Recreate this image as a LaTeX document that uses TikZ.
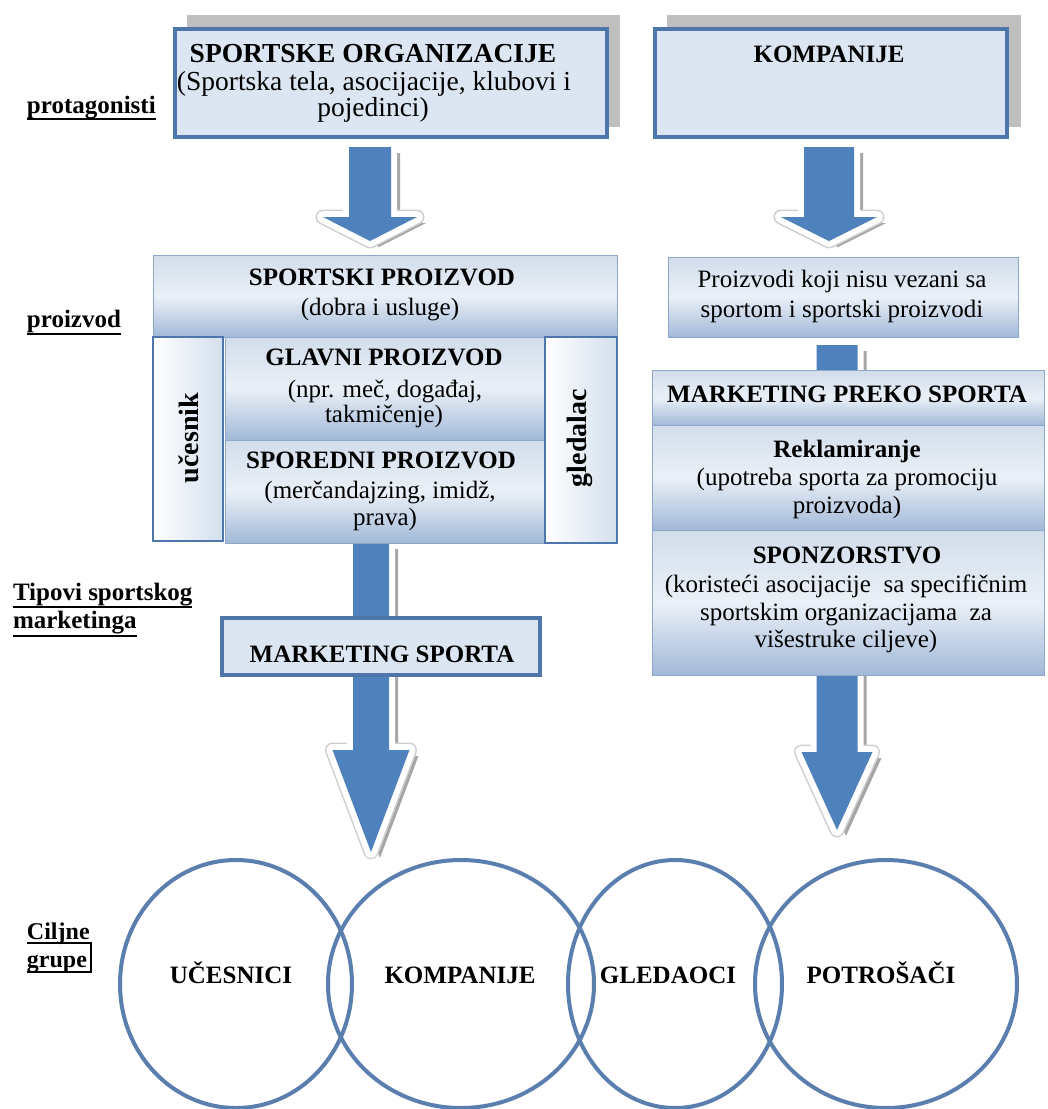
\documentclass[tikz,border=0pt]{standalone}
\usepackage{fontspec}
\setmainfont{Liberation Serif}
\usetikzlibrary{calc,shapes.geometric}

\definecolor{FlowBlue}{HTML}{4F81BD}
\definecolor{FlowShadow}{HTML}{A6A6A6}
\definecolor{HeadRim}{HTML}{CFCFCF}
\definecolor{TopFill}{HTML}{DCE6F2}
\definecolor{TopLine}{HTML}{4E76AA}
\definecolor{TopShadow}{HTML}{BFBFBF}
\definecolor{ShadeTop}{HTML}{D2DDEB}
\definecolor{ShadeMid}{HTML}{EAF0F7}
\definecolor{ShadeBot}{HTML}{A2B9D8}
\definecolor{ShadeLine}{HTML}{8DA7C8}
\definecolor{SideFill}{HTML}{D3DFEE}
\definecolor{RingLine}{HTML}{5A7FAF}

\newcommand{\setfsz}[1]{\fontsize{#1pt}{#1pt}\selectfont}

% block arrow: #1 start coordinate, #2 tip coordinate,
% #3 shaft half width, #4 head half width, #5 head length
\newcommand{\flowarrow}[5]{%
  \path let \p1=(#1), \p2=(#2) in
    (\x1-#3,\y1) coordinate (fa1)
    (\x1-#3,\y2+#5) coordinate (fa2)
    (\x1-#4,\y2+#5) coordinate (fa3)
    (\x2,\y2) coordinate (fa4)
    (\x1+#4,\y2+#5) coordinate (fa5)
    (\x1+#3,\y2+#5) coordinate (fa6)
    (\x1+#3,\y1) coordinate (fa7);
  \fill[FlowShadow, transform canvas={shift={(9pt,-6pt)}}]
    (fa1)--(fa2)--(fa3)--(fa4)--(fa5)--(fa6)--(fa7)--cycle;
  \draw[HeadRim, line width=15pt, line join=round] (fa3)--(fa4)--(fa5)--cycle;
  \draw[white, line width=12pt, line join=round]
    (fa1)--(fa2)--(fa3)--(fa4)--(fa5)--(fa6)--(fa7)--cycle;
  \fill[FlowBlue] (fa1)--(fa2)--(fa3)--(fa4)--(fa5)--(fa6)--(fa7)--cycle;
}

\begin{document}
\begin{tikzpicture}[x=1pt, y=-1pt,
  every node/.style={inner sep=0pt, outer sep=0pt},
  topbox/.style={rectangle, draw=TopLine, line width=3.5pt, fill=TopFill},
  topshade/.style={rectangle, fill=TopShadow},
  shadebox/.style={rectangle, draw=ShadeLine, line width=0.8pt,
    top color=ShadeTop, bottom color=ShadeBot, middle color=ShadeMid},
  sidebox/.style={rectangle, draw=TopLine, line width=1.5pt,
    left color=white, right color=SideFill},
  ring/.style={ellipse, draw=RingLine, line width=4pt},
  hd/.style={anchor=base, font=\bfseries\setfsz{25}},
  bd/.style={anchor=base, font=\setfsz{25}},
  rowlbl/.style={anchor=base west, font=\bfseries\setfsz{25}},
  uline/.style={line width=2pt, black}
]
\useasboundingbox (0,0) rectangle (1048,1109);
\fill[white] (0,0) rectangle (1048,1109);

% ---------- connector coordinates ----------
\coordinate (a1-top) at (370,147);
\coordinate (a1-tip) at (370,241);
\coordinate (a2-top) at (829,147);
\coordinate (a2-tip) at (829,241);
\coordinate (a3-top) at (371,543);
\coordinate (a3-tip) at (371,852);
\coordinate (a4-top) at (837,345);
\coordinate (a4-tip) at (837,830);

% ---------- block arrows (behind the boxes) ----------
\flowarrow{a1-top}{a1-tip}{21pt}{47pt}{24pt}
\flowarrow{a2-top}{a2-tip}{25pt}{48pt}{24pt}
\flowarrow{a3-top}{a3-tip}{18pt}{38.5pt}{102pt}
\flowarrow{a4-top}{a4-tip}{20.5pt}{35.5pt}{78pt}

% ---------- protagonists ----------
\node[topshade, minimum width=433pt, minimum height=112pt] (so-sh) at (403.5,71) {};
\node[topbox, minimum width=432pt, minimum height=108pt] (so) at (391,83) {};
\node[topshade, minimum width=354pt, minimum height=112pt] (ko-sh) at (844,71) {};
\node[topbox, minimum width=352pt, minimum height=108pt] (ko) at (831,83) {};

\node[hd, font=\bfseries\setfsz{27.5}] (so-t1) at (373,62) {SPORTSKE ORGANIZACIJE};
\node[bd, font=\setfsz{27.5}] (so-t2) at (374,90) {(Sportska tela, asocijacije, klubovi i};
\node[bd, font=\setfsz{27.5}] (so-t3) at (373,116) {pojedinci)};
\node[hd] (ko-t1) at (829,62) {KOMPANIJE};

% ---------- product ----------
\node[shadebox, minimum width=464pt, minimum height=82pt] (sp) at (385,296) {};
\node[sidebox, minimum width=70pt, minimum height=204pt] (uc) at (188,439) {};
\node[shadebox, minimum width=320pt, minimum height=103pt] (gp) at (385,388.5) {};
\node[shadebox, minimum width=320pt, minimum height=103pt] (spr) at (385,491.5) {};
\node[sidebox, minimum width=72pt, minimum height=206pt] (gl) at (581,440) {};

\node[hd] (sp-t1) at (382,285) {SPORTSKI PROIZVOD};
\node[bd] (sp-t2) at (380,315) {(dobra i usluge)};
\node[hd] (gp-t1) at (384,365) {GLAVNI PROIZVOD};
\node[bd] (gp-t2) at (385,397) {(npr. meč, događaj,};
\node[bd] (gp-t3) at (384,422) {takmičenje)};
\node[hd] (spr-t1) at (381,468) {SPOREDNI PROIZVOD};
\node[bd] (spr-t2) at (380,498) {(merčandajzing, imidž,};
\node[bd] (spr-t3) at (385,525) {prava)};
\node[font=\bfseries\setfsz{28}, rotate=90] (uc-t) at (189,438) {učesnik};
\node[font=\bfseries\setfsz{28}, rotate=90] (gl-t) at (580,438) {gledalac};

\node[shadebox, minimum width=350pt, minimum height=80pt] (pk) at (843,297) {};
\node[bd] (pk-t1) at (842,287) {Proizvodi koji nisu vezani sa};
\node[bd] (pk-t2) at (842,317) {sportom i sportski proizvodi};

% ---------- types of sport marketing ----------
\node[topbox, minimum width=318pt, minimum height=57pt] (ms) at (381,646.5) {};
\node[hd] (ms-t) at (382,662) {MARKETING SPORTA};

\node[shadebox, minimum width=392pt, minimum height=55pt] (mps) at (848,397.5) {};
\node[shadebox, minimum width=392pt, minimum height=105pt] (rk) at (848,477.5) {};
\node[shadebox, minimum width=392pt, minimum height=145pt] (sz) at (848,602.5) {};

\node[hd] (mps-t) at (847,402) {MARKETING PREKO SPORTA};
\node[hd] (rk-t1) at (847,457) {Reklamiranje};
\node[bd] (rk-t2) at (847,485) {(upotreba sporta za promociju};
\node[bd] (rk-t3) at (847,513) {proizvoda)};
\node[hd] (sz-t1) at (847,563) {SPONZORSTVO};
\node[bd] (sz-t2) at (846,592) {(koristeći asocijacije~ sa specifičnim};
\node[bd] (sz-t3) at (846,620) {sportskim organizacijama~ za};
\node[bd] (sz-t4) at (846,647) {višestruke ciljeve)};

% ---------- target groups ----------
\node[ring, minimum width=232pt, minimum height=248pt] (c1) at (236,984) {};
\node[ring, minimum width=266pt, minimum height=248pt] (c2) at (461,984) {};
\node[ring, minimum width=214pt, minimum height=248pt] (c3) at (675,984) {};
\node[ring, minimum width=262pt, minimum height=248pt] (c4) at (886,984) {};

\node[hd] (c1-t) at (231,983) {UČESNICI};
\node[hd] (c2-t) at (460,983) {KOMPANIJE};
\node[hd] (c3-t) at (668,983) {GLEDAOCI};
\node[hd] (c4-t) at (881,983) {POTROŠAČI};

% ---------- row labels ----------
\node[rowlbl] (l1) at (27,113) {protagonisti};
\draw[uline] ([yshift=-6pt]l1.base west) -- ([yshift=-6pt]l1.base east);
\node[rowlbl] (l2) at (27,327) {proizvod};
\draw[uline] ([yshift=-7pt]l2.base west) -- ([yshift=-7pt]l2.base east);
\node[rowlbl] (l3a) at (13,600) {Tipovi sportskog};
\draw[uline] ([yshift=-7pt]l3a.base west) -- ([yshift=-7pt]l3a.base east);
\node[rowlbl] (l3b) at (13,628) {marketinga};
\draw[uline] ([yshift=-8pt]l3b.base west) -- ([yshift=-8pt]l3b.base east);
\node[rowlbl, font=\bfseries\setfsz{24}] (l4a) at (27,939) {Ciljne};
\node[rowlbl, font=\bfseries\setfsz{24}] (l4b) at (27,967) {grupe};
\draw[uline] ([yshift=-4pt]l4a.base west) -- ++(64,0) coordinate (l4c)
  -- ([yshift=-5pt]l4b.base west -| l4c) -- ([yshift=-5pt]l4b.base west);
\end{tikzpicture}
\end{document}
